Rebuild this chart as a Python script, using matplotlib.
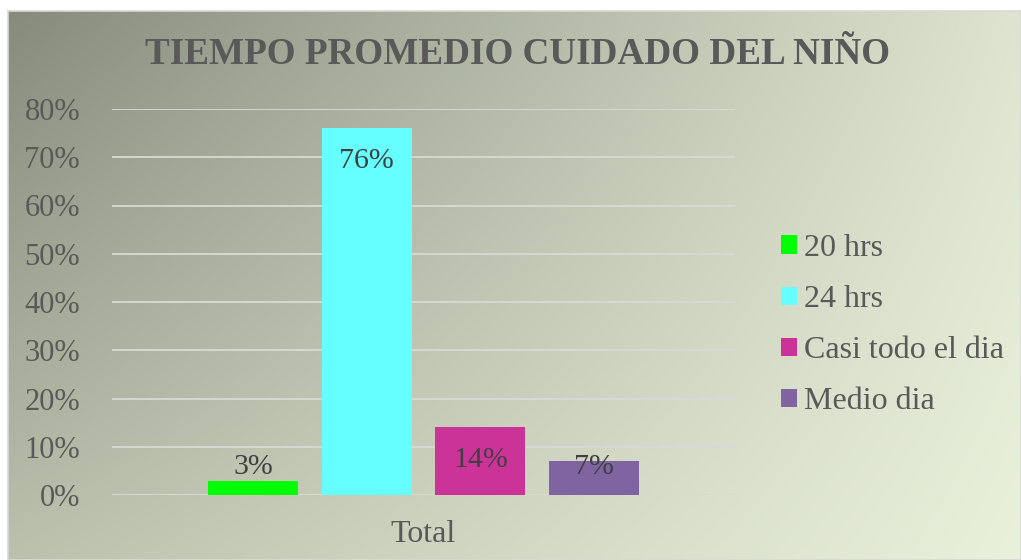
import matplotlib.pyplot as plt
import numpy as np

series = ['20 hrs', '24 hrs', 'Casi todo el dia', 'Medio dia']
values = [3, 76, 14, 7]
colors = ['#00ff00', '#66ffff', '#cc3399', '#8064a2']
category = 'Total'
yticks = [0, 10, 20, 30, 40, 50, 60, 70, 80]

plt.rcParams['font.family'] = ['Liberation Serif', 'DejaVu Serif']

fig = plt.figure(figsize=(10.21, 5.6), dpi=100)
fig.patch.set_facecolor('white')

# background panel with diagonal gradient (chart area)
bg = fig.add_axes([8 / 1021, 0, 1 - 8 / 1021, 1 - 11 / 560])
tl = np.array([134, 139, 124]) / 255
tr = np.array([222, 228, 207]) / 255
bl = np.array([188, 193, 174]) / 255
br = np.array([234, 241, 219]) / 255
u = np.linspace(0, 1, 200)[None, :, None]
v = np.linspace(0, 1, 120)[:, None, None]
img = (1 - v) * ((1 - u) * tl + u * tr) + v * ((1 - u) * bl + u * br)
bg.imshow(img, aspect='auto', extent=[0, 1, 0, 1], interpolation='bilinear')
bg.set_xlim(0, 1)
bg.set_ylim(0, 1)
bg.set_xticks([])
bg.set_yticks([])
for s in bg.spines.values():
    s.set_color('#d9d9d9')
    s.set_linewidth(1.2)

# plot area: x 112..735, y 109..495
ax = fig.add_axes([112 / 1021, 1 - 495 / 560, (735 - 112) / 1021, (495 - 109) / 560])
ax.set_facecolor('none')
ax.set_xlim(-0.5, 0.5)
ax.set_ylim(0, 80)

w = 90 / 623
step = 113.7 / 623
offs = (np.arange(len(values)) - 1.5) * step
for o, val, c, lab in zip(offs, values, colors, series):
    ax.bar(o, val, width=w, color=c, label=lab, zorder=3)
    ly = max(val - 6.8, 5.7)
    ax.text(o, ly, f'{val}%', ha='center', va='center', fontsize=21.5,
            color='#404040', zorder=4)

ax.set_yticks(yticks)
ax.set_yticklabels([f'{t}%' for t in yticks], fontsize=22, color='#595959')
ax.set_xticks([0])
ax.set_xticklabels([category], fontsize=23, color='#595959')
ax.tick_params(length=0)
ax.tick_params(axis='y', pad=23)
ax.tick_params(axis='x', pad=18)
ax.grid(axis='y', color='#d9d9d9', linewidth=1.3, zorder=0)
for s in ax.spines.values():
    s.set_visible(False)

fig.text(518 / 1021, 1 - 55 / 560, 'TIEMPO PROMEDIO CUIDADO DEL NIÑO',
         ha='center', va='center', fontsize=26.7, fontweight='bold', color='#595959')

leg = ax.legend(loc='center left', bbox_to_anchor=(781 / 1021, 1 - 325 / 560),
                bbox_transform=fig.transFigure, frameon=False, fontsize=23,
                handlelength=0.5, handleheight=0.5, handletextpad=0.22,
                labelspacing=0.69, borderaxespad=0, borderpad=0)
for t in leg.get_texts():
    t.set_color('#595959')

fig.savefig('out.png', dpi=100)
